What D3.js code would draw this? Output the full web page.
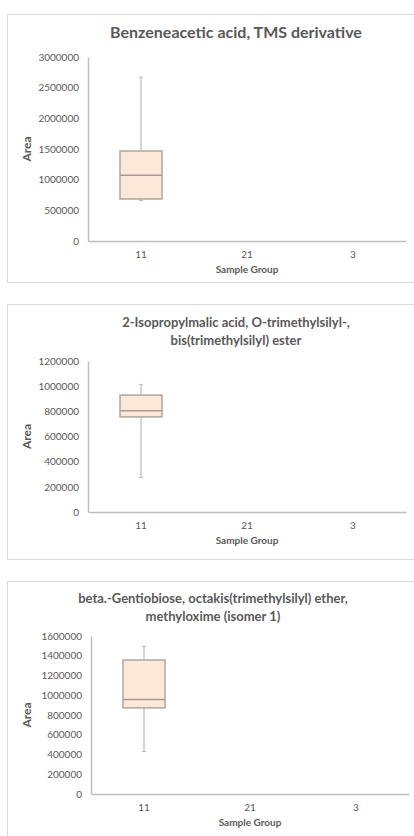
<!DOCTYPE html>
<html>
<head>
<meta charset="utf-8">
<script src="https://cdn.jsdelivr.net/npm/d3@7"></script>
<style>
  body { margin: 0; background: #fff; }
  svg text { font-family: Lato, "Open Sans", sans-serif; }
</style>
</head>
<body>
<div id="chart"></div>
<script>
// DATA

var categories = ["11", "21", "3"];

var titles = [
    ["Benzeneacetic acid, TMS derivative"],
    ["2-Isopropylmalic acid, O-trimethylsilyl-,", "bis(trimethylsilyl) ester"],
    ["beta.-Gentiobiose, octakis(trimethylsilyl) ether,", "methyloxime (isomer 1)"]
];

var yTicks = [
    [0, 500000, 1000000, 1500000, 2000000, 2500000, 3000000],
    [0, 200000, 400000, 600000, 800000, 1000000, 1200000],
    [0, 200000, 400000, 600000, 800000, 1000000, 1200000, 1400000, 1600000]
];

// box stats for group "11" in each chart: min, q1, median, q3, max
var boxMin    = [660000, 274000, 431000];
var boxQ1     = [685000, 756000, 872000];
var boxMedian = [1071000, 804000, 956000];
var boxQ3     = [1467000, 929000, 1357000];
var boxMax    = [2670000, 1014000, 1495000];

// LAYOUT

var width = 414;
var height = 836;

var panels = [
    { top: 14, bottom: 282, plotTop: 57, plotBottom: 241, left: 88, titleX: 236, titleY: [38], titleSize: 16 },
    { top: 304, bottom: 559, plotTop: 361, plotBottom: 512, left: 88, titleX: 236, titleY: [327, 345], titleSize: 13 },
    { top: 581, bottom: 860, plotTop: 636, plotBottom: 794, left: 91, titleX: 213, titleY: [603, 621], titleSize: 13 }
];

var svg = d3.select("#chart")
    .append("svg")
    .attr("width", width)
    .attr("height", height);

panels.forEach(function (p, i) {

    var g = svg.append("g");

    // panel frame
    g.append("rect")
        .attr("x", 7.5)
        .attr("y", p.top + 0.5)
        .attr("width", 420)
        .attr("height", p.bottom - p.top)
        .attr("fill", "#fff")
        .attr("stroke", "#d9d9d9")
        .attr("stroke-width", 1);

    // title
    titles[i].forEach(function (line, k) {
        g.append("text")
            .attr("x", p.titleX)
            .attr("y", p.titleY[k])
            .attr("text-anchor", "middle")
            .attr("font-size", p.titleSize)
            .attr("font-weight", "bold")
            .attr("fill", "#595959")
            .text(line);
    });

    var x = d3.scaleBand()
        .domain(categories)
        .range([p.left, p.left + 318]);

    var y = d3.scaleLinear()
        .domain([0, d3.max(yTicks[i])])
        .range([p.plotBottom, p.plotTop]);

    // y axis
    var ya = g.append("g")
        .attr("transform", "translate(" + p.left + ",0)")
        .call(d3.axisLeft(y).tickValues(yTicks[i]).tickSize(0).tickPadding(9).tickFormat(d3.format("d")));
    ya.select(".domain").attr("stroke", "#bfbfbf").attr("stroke-width", 1.5);
    ya.selectAll("text").attr("fill", "#595959").attr("font-size", 10).attr("font-family", "Lato, sans-serif");

    // x axis
    var xa = g.append("g")
        .attr("transform", "translate(0," + p.plotBottom + ")")
        .call(d3.axisBottom(x).tickSize(0).tickPadding(10));
    xa.select(".domain").attr("stroke", "#bfbfbf").attr("stroke-width", 1.5);
    xa.selectAll("text").attr("fill", "#595959").attr("font-size", 10).attr("font-family", "Lato, sans-serif");

    // axis titles
    g.append("text")
        .attr("x", x(categories[1]) + x.bandwidth() / 2)
        .attr("y", p.plotBottom + 32)
        .attr("text-anchor", "middle")
        .attr("font-size", 10)
        .attr("font-weight", "bold")
        .attr("fill", "#595959")
        .text("Sample Group");

    g.append("text")
        .attr("transform", "translate(31," + ((p.plotTop + p.plotBottom) / 2) + ") rotate(-90)")
        .attr("text-anchor", "middle")
        .attr("font-size", 12)
        .attr("font-weight", "bold")
        .attr("fill", "#595959")
        .text("Area");

    // box for group 11
    var cx = x(categories[0]) + x.bandwidth() / 2;
    var bw = 42;

    g.append("line")
        .attr("x1", cx).attr("x2", cx)
        .attr("y1", y(boxMax[i])).attr("y2", y(boxQ3[i]))
        .attr("stroke", "#c8c8c8").attr("stroke-width", 1.5);
    g.append("line")
        .attr("x1", cx).attr("x2", cx)
        .attr("y1", y(boxQ1[i])).attr("y2", y(boxMin[i]))
        .attr("stroke", "#c8c8c8").attr("stroke-width", 1.5);
    [boxMax[i], boxMin[i]].forEach(function (v) {
        g.append("line")
            .attr("x1", cx - 2).attr("x2", cx + 2)
            .attr("y1", y(v)).attr("y2", y(v))
            .attr("stroke", "#bbbbbb").attr("stroke-width", 1);
    });

    g.append("rect")
        .attr("x", cx - bw / 2)
        .attr("y", y(boxQ3[i]))
        .attr("width", bw)
        .attr("height", y(boxQ1[i]) - y(boxQ3[i]))
        .attr("fill", "#fce7d9")
        .attr("stroke", "#b0a69c")
        .attr("stroke-width", 1.5);

    g.append("line")
        .attr("x1", cx - bw / 2).attr("x2", cx + bw / 2)
        .attr("y1", y(boxMedian[i])).attr("y2", y(boxMedian[i]))
        .attr("stroke", "#a89c90").attr("stroke-width", 1.5);
});
</script>
</body>
</html>
